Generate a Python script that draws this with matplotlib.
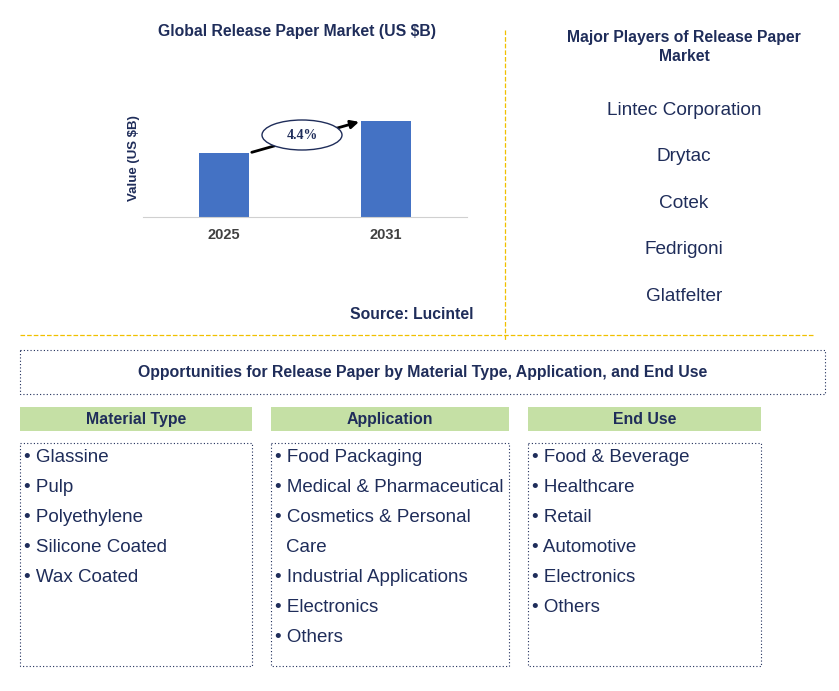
import matplotlib
matplotlib.use("Agg")
import matplotlib.pyplot as plt
from matplotlib.patches import Rectangle, Ellipse

plt.rcParams["font.family"] = "Liberation Sans"

years = ["2025", "2031"]
values = [2.0, 3.0]
cagr = "4.4%"
players = ["Lintec Corporation", "Drytac", "Cotek", "Fedrigoni", "Glatfelter"]
material = ["Glassine", "Pulp", "Polyethylene", "Silicone Coated", "Wax Coated"]
application = ["Food Packaging", "Medical & Pharmaceutical", "Cosmetics & Personal\nCare",
               "Industrial Applications", "Electronics", "Others"]
end_use = ["Food & Beverage", "Healthcare", "Retail", "Automotive", "Electronics", "Others"]

W, H = 839, 691
navy = "#1f2d5a"
fig = plt.figure(figsize=(W/100, H/100), dpi=100)

# bar chart
ax = fig.add_axes([143/W, (H-217)/H, (467-143)/W, 117/H])
ax.bar([0, 1], values, width=0.31, color="#4472c4")
ax.set_xlim(-0.5, 1.5)
ax.set_ylim(0, 3.66)
ax.set_xticks([0, 1], years, fontsize=10.5, fontweight="bold", color="#404040")
ax.set_yticks([])
for s in ["top", "right", "left"]:
    ax.spines[s].set_visible(False)
ax.spines["bottom"].set_color("#d0d0d0")
ax.tick_params(axis="x", length=0, pad=8)
ax.set_ylabel("Value (US $B)", fontsize=9.5, fontweight="bold", color=navy, labelpad=2)
ax.annotate("", xy=(0.85, values[1]), xytext=(0.155, values[0]),
            arrowprops=dict(arrowstyle="-|>", color="black", lw=2, mutation_scale=12))

ov = fig.add_axes([0, 0, 1, 1])
ov.set_xlim(0, W); ov.set_ylim(H, 0); ov.axis("off")
ov.patch.set_alpha(0)

ov.add_patch(Ellipse((302, 135), 80, 30, facecolor="white", edgecolor=navy, lw=1, zorder=5))
ov.text(302, 135, cagr, ha="center", va="center", fontsize=10, fontweight="bold",
        family="Liberation Serif", color=navy, zorder=6)

ov.text(297, 31, "Global Release Paper Market (US $B)", ha="center", va="center",
        fontsize=11.3, fontweight="bold", color=navy)
ov.text(412, 314, "Source: Lucintel", ha="center", va="center", fontsize=11.3,
        fontweight="bold", color=navy)

ov.plot([505, 505], [30, 340], ls="--", color="#f0c000", lw=0.9)
ov.plot([20, 815], [335, 335], ls="--", color="#f0c000", lw=0.9)

ov.text(684, 47, "Major Players of Release Paper\nMarket", ha="center", va="center",
        fontsize=11.3, fontweight="bold", color=navy, linespacing=1.4)
for i, p in enumerate(players):
    ov.text(684, 110 + i*46.5, p, ha="center", va="center", fontsize=13.7, color=navy)

ov.add_patch(Rectangle((20, 350), 805, 44, fill=False, ec=navy, ls=(0, (1, 2)), lw=0.8))
ov.text(423, 372, "Opportunities for Release Paper by Material Type, Application, and End Use",
        ha="center", va="center", fontsize=11.4, fontweight="bold", color=navy)

cols = [(20, 252, "Material Type", material), (271, 509, "Application", application),
        (528, 761, "End Use", end_use)]
for x0, x1, head, items in cols:
    ov.add_patch(Rectangle((x0, 407), x1-x0, 24, color="#c5e0a5", lw=0))
    ov.text((x0+x1)/2, 419, head, ha="center", va="center", fontsize=11.4,
            fontweight="bold", color=navy)
    ov.add_patch(Rectangle((x0, 443), x1-x0, 223, fill=False, ec=navy, ls=(0, (1, 2)), lw=0.8))
    y = 457
    for it in items:
        for j, line in enumerate(it.split("\n")):
            ov.text(x0+4 + (11 if j else 0), y, ("• " if j == 0 else "") + line,
                    ha="left", va="center", fontsize=13.5, color=navy)
            y += 30

fig.savefig("out.png", dpi=100)
